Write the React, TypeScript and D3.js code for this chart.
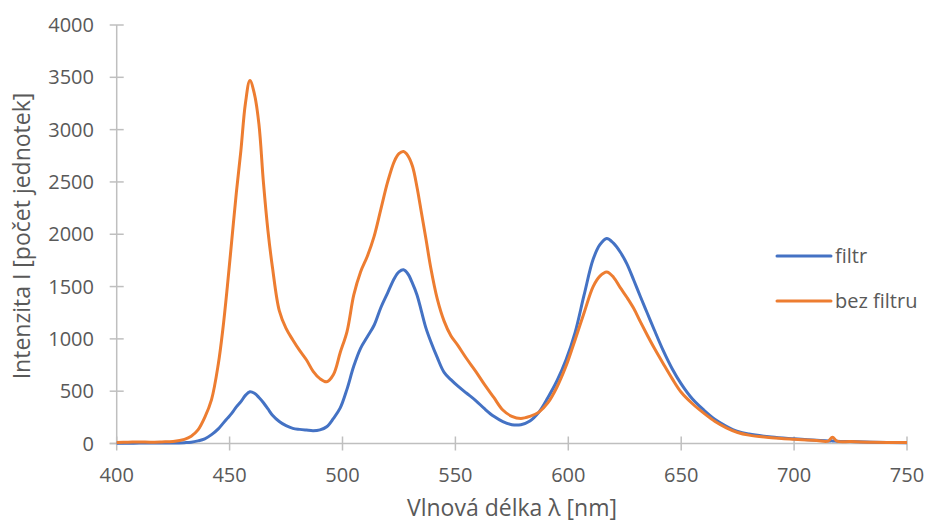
import React from "react";
import * as d3 from "d3";

const wavelengths = [400,405,410,415,420,425,430,433,436,439,442,445,447,449,451,453,455,457,459,461,463,465,467,469,472,475,478,481,484,487,490,493,496,499,502,505,508,511,514,517,520,523,525,527,529,531,533,535,537,539,542,545,548,551,555,559,563,567,571,575,579,583,587,591,595,599,603,607,611,614,617,620,623,626,629,632,635,638,642,646,650,655,660,665,670,675,680,690,700,710,715,717,719,725,735,750];

const bezFiltru = [10,12,15,12,15,20,40,70,130,250,420,760,1090,1500,1950,2400,2800,3250,3470,3340,3050,2490,2030,1680,1270,1100,990,890,800,690,620,590,660,870,1070,1420,1640,1790,1980,2240,2500,2700,2770,2790,2750,2650,2450,2200,1950,1690,1380,1170,1030,940,810,690,560,440,320,260,240,260,300,390,540,740,990,1250,1500,1600,1640,1590,1490,1395,1290,1160,1035,915,765,620,490,380,290,210,150,105,80,55,40,28,22,60,22,18,12,10];

const filtr = [3,3,4,4,5,5,8,12,25,45,85,140,190,240,290,350,400,460,495,480,440,390,330,270,210,170,145,135,128,122,130,160,240,340,520,740,910,1020,1130,1300,1440,1580,1640,1660,1620,1530,1420,1260,1100,980,820,680,610,550,480,410,330,260,210,180,180,215,300,440,600,800,1060,1420,1760,1900,1960,1915,1830,1715,1560,1400,1245,1090,890,715,570,425,320,230,165,115,90,62,45,30,25,25,22,18,12,8];

const xTicks = [400,450,500,550,600,650,700,750];
const yTicks = [0,500,1000,1500,2000,2500,3000,3500,4000];

const seriesNames = ["filtr", "bez filtru"];
const seriesColors = ["#4472C4", "#ED7D31"];

export default function App() {
  const W = 926, H = 524;
  const x = d3.scaleLinear().domain([400, 750]).range([116.7, 907]);
  const y = d3.scaleLinear().domain([0, 4000]).range([443.5, 25]);
  const line = d3.line<number>()
    .x((_, i) => x(wavelengths[i]))
    .y((d) => y(d))
    .curve(d3.curveCatmullRom.alpha(0.5));
  const font = "'Open Sans', sans-serif";
  const textColor = "#595959";
  const axisColor = "#bfbfbf";
  const allSeries = [filtr, bezFiltru];
  return (
    <svg width={W} height={H} style={{ position: "absolute", left: 0, top: 0, background: "#fff" }}>
      <rect width={W} height={H} fill="#fff" />
      {/* y axis */}
      <line x1={x(400)} x2={x(400)} y1={y(4000)} y2={y(0)} stroke={axisColor} strokeWidth={1.5} />
      {yTicks.map((t) => (
        <g key={"y" + t}>
          <line x1={x(400) - 7} x2={x(400) + 7} y1={y(t)} y2={y(t)} stroke={axisColor} strokeWidth={1.5} />
          <text x={94} y={y(t)} dy="0.35em" textAnchor="end" fontFamily={font} fontSize={20} fill={textColor}>{t}</text>
        </g>
      ))}
      {/* x axis */}
      <line x1={x(400) - 7} x2={x(750)} y1={y(0)} y2={y(0)} stroke={axisColor} strokeWidth={1.5} />
      {xTicks.map((t) => (
        <g key={"x" + t}>
          <line x1={x(t)} x2={x(t)} y1={y(0) - 7} y2={y(0) + 7} stroke={axisColor} strokeWidth={1.5} />
          <text x={x(t)} y={482} textAnchor="middle" fontFamily={font} fontSize={20} fill={textColor}>{t}</text>
        </g>
      ))}
      {allSeries.map((s, i) => (
        <path key={seriesNames[i]} d={line(s) || ""} fill="none" stroke={seriesColors[i]} strokeWidth={3} strokeLinejoin="round" />
      ))}
      {/* titles */}
      <text x={512} y={516} textAnchor="middle" fontFamily={font} fontSize={23} fill={textColor}>Vlnová délka λ [nm]</text>
      <text transform={`translate(30, 236) rotate(-90)`} textAnchor="middle" fontFamily={font} fontSize={23} fill={textColor}>Intenzita I [počet jednotek]</text>
      {/* legend */}
      {seriesNames.map((n, i) => (
        <g key={"lg" + n}>
          <line x1={777} x2={831} y1={256 + i * 45} y2={256 + i * 45} stroke={seriesColors[i]} strokeWidth={3} strokeLinecap="round" />
          <text x={835} y={256 + i * 45} dy="0.35em" fontFamily={font} fontSize={20} fill={textColor}>{n}</text>
        </g>
      ))}
    </svg>
  );
}
